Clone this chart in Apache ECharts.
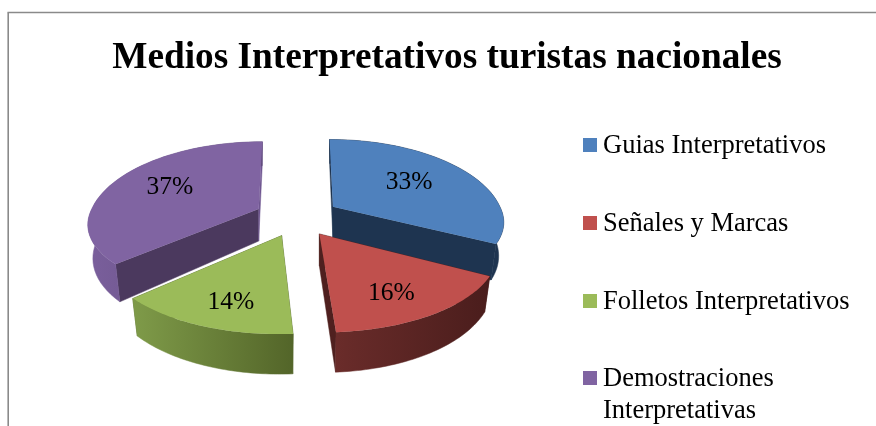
<!DOCTYPE html>
<html>
<head>
<meta charset="utf-8">
<title>Medios Interpretativos turistas nacionales</title>
<script src="https://cdn.jsdelivr.net/npm/echarts@6/dist/echarts.min.js"></script>
<style>
html,body{margin:0;padding:0;background:#fff;}
#chart{width:876px;height:426px;}
</style>
</head>
<body>
<div id="chart"></div>
<script>
var titleText = 'Medios Interpretativos turistas nacionales';
var categories = ['Guias Interpretativos', 'Señales y Marcas', 'Folletos Interpretativos', 'Demostraciones\nInterpretativas'];
var values = [33, 16, 14, 37];
var topColors = ['#4F81BD', '#C0504D', '#9BBB59', '#8064A2'];
var startCutColors = ['#1E3450', '#4F201F', '#55682D', '#4B395E'];
var endCutColors = ['#1E3450', '#4F201F', '#55682D', '#6F5690'];
var wallLeft = ['#1E3450', '#6A2C2A', '#7F9B49', '#7A5F9C'];
var wallRight = ['#1E3450', '#4A1D1C', '#536529', '#5E4A7A'];
// drawn last = in front
var drawOrder = [0, 3, 2, 1];

var fontName = '"Liberation Serif", "Times New Roman", serif';
var cx = 297, cy = 217;   // centro del pastel
var rx = 167, ry = 80;    // radios de la elipse
var persp = 0.188;        // lo de delante se ve mas grande
var explode = 0.25;
var startDeg = 0;

var total = 0;
for (var t = 0; t < values.length; t++) { total += values[t]; }

function sliceAngles(idx) {
	var a = startDeg;
	for (var i = 0; i < idx; i++) { a += values[i] / total * 360; }
	return [a, a + values[idx] / total * 360];
}

// punto de la cara superior: f = fraccion del radio
function topPoint(ax, ay, midY, deg, fx, fy) {
	var r = deg * Math.PI / 180;
	var X = Math.sin(r), Y = -Math.cos(r);
	var s = 1 / (1 - persp * Y);
	var wide = 1 + 0.06 * Math.max(0, midY);
	var flat = (midY < 0 && Y > 0) ? 0.88 : 1;
	return [
		ax + X * rx * s * fx * wide + (ax - cx) * (s - 1) * 0.6 * fx,
		ay + Y * ry * s * fy * flat
	];
}

function bottomPoint(ax, ay, midY, deg, f) {
	var r = deg * Math.PI / 180;
	var Y = -Math.cos(r) * f;
	var p = topPoint(ax, ay, midY, deg, f, f);
	return [ax + (p[0] - ax) * 0.97, p[1] + 32 + 8 * Y];
}

function renderSlice(idx, params, api) {
	var ang = sliceAngles(idx);
	var mid = (ang[0] + ang[1]) / 2 * Math.PI / 180;
	var midY = -Math.cos(mid);
	var ax = cx + Math.sin(mid) * explode * rx;
	var ay = cy + midY * explode * ry;
	var i, d, n = 48;
	var arcTop = [], arcBot = [];
	for (i = 0; i <= n; i++) {
		d = ang[0] + (ang[1] - ang[0]) * i / n;
		arcTop.push(topPoint(ax, ay, midY, d, 1, 1));
		arcBot.push(bottomPoint(ax, ay, midY, d, 1));
	}
	var apexBot = bottomPoint(ax, ay, midY, 0, 0);
	var children = [];
	// cortes
	children.push({type: 'polygon', shape: {points: [[ax, ay], arcTop[0], arcBot[0], apexBot]},
		style: {fill: startCutColors[idx], stroke: startCutColors[idx], lineWidth: 0.5}});
	children.push({type: 'polygon', shape: {points: [[ax, ay], arcTop[n], arcBot[n], apexBot]},
		style: {fill: endCutColors[idx], stroke: endCutColors[idx], lineWidth: 0.5}});
	// pared exterior
	var wall = arcTop.concat(arcBot.slice().reverse());
	var grad = new echarts.graphic.LinearGradient(0, 0, 1, 0, [
		{offset: 0, color: wallLeft[idx]}, {offset: 1, color: wallRight[idx]}]);
	children.push({type: 'polygon', shape: {points: wall},
		style: {fill: grad, stroke: grad, lineWidth: 0.5}});
	// cara superior
	children.push({type: 'polygon', shape: {points: [[ax, ay]].concat(arcTop)},
		style: {fill: topColors[idx]}});
	// etiqueta
	var deg = (ang[0] + ang[1]) / 2;
	var lp = topPoint(ax, ay, midY, deg, midY < -0.45 ? 0.59 : 0.63, midY < -0.45 ? 0.65 : 0.74);
	children.push({type: 'text', x: lp[0], y: lp[1],
		style: {text: api.value(0) + '%', fill: '#000', font: '25.5px ' + fontName,
			align: 'center', verticalAlign: 'middle'}});
	return {type: 'group', children: children};
}

var seriesList = [];
for (var k = 0; k < drawOrder.length; k++) {
	(function (idx, z) {
		seriesList.push({
			type: 'custom',
			name: categories[idx],
			coordinateSystem: 'none',
			silent: true,
			z: z,
			data: [[values[idx]]],
			renderItem: function (params, api) { return renderSlice(idx, params, api); }
		});
	})(drawOrder[k], k + 2);
}

var legendTop = [145, 223, 301, 378];
var graphicList = [
	{type: 'line', shape: {x1: 7.5, y1: 12.5, x2: 876, y2: 12.5}, style: {stroke: '#8A8A8A', lineWidth: 1.6}},
	{type: 'line', shape: {x1: 8.2, y1: 12.5, x2: 8.2, y2: 426}, style: {stroke: '#8A8A8A', lineWidth: 1.6}}
];
for (var j = 0; j < categories.length; j++) {
	graphicList.push({type: 'rect', shape: {x: 583, y: legendTop[j] - 7, width: 14, height: 14},
		style: {fill: topColors[j]}});
	graphicList.push({type: 'text', x: 603, y: legendTop[j] - 15,
		style: {text: categories[j], fill: '#000', font: '26.5px ' + fontName, lineHeight: 32,
			align: 'left', verticalAlign: 'top'}});
}

var myChart = echarts.init(document.getElementById('chart'), null, {renderer: 'canvas'});
myChart.setOption({
	animation: false,
	backgroundColor: '#fff',
	title: {
		text: titleText,
		left: 442,
		top: 35,
		textAlign: 'center',
		textStyle: {fontFamily: fontName, fontSize: 37.3, fontWeight: 'bold', color: '#000'}
	},
	graphic: graphicList,
	series: seriesList
});
</script>
</body>
</html>
